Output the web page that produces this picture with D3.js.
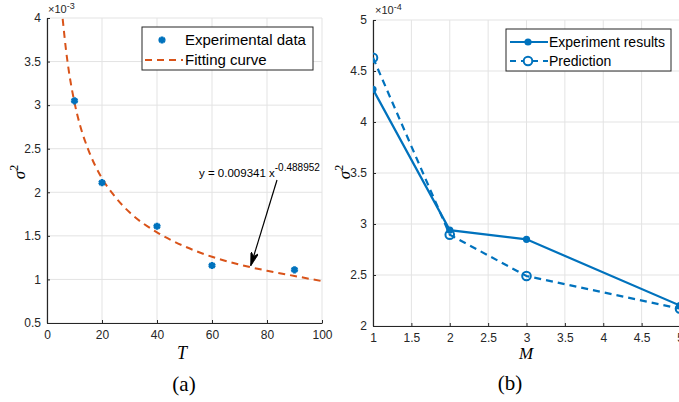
<!DOCTYPE html>
<html>
<head>
<meta charset="utf-8">
<script src="https://cdn.jsdelivr.net/npm/d3@7"></script>
<style>
  body { margin: 0; background: #fff; }
  svg { display: block; }
  .tick text { font-family: "Liberation Sans", Arial, sans-serif; font-size: 12px; fill: #262626; }
</style>
</head>
<body>
<div id="wrapper"></div>
<script>
// ---- data, panel (a) ----
var expT = [10, 20, 40, 60, 90];
var expSigma = [3.05, 2.11, 1.61, 1.16, 1.11];          // x 1e-3
var fitT = [5.7, 7, 8, 10, 12, 15, 20, 25, 30, 40, 50, 60, 70, 80, 90, 100];
var fitSigma = [3.99, 3.61, 3.38, 3.03, 2.77, 2.49, 2.16, 1.94, 1.77, 1.54, 1.38, 1.26, 1.17, 1.10, 1.04, 0.98];
var aXTicks = [0, 20, 40, 60, 80, 100];
var aYTicks = [0.5, 1, 1.5, 2, 2.5, 3, 3.5, 4];

// ---- data, panel (b) ----
var mVals = [1, 2, 3, 5];
var experimentRes = [4.32, 2.94, 2.85, 2.20];          // x 1e-4
var predictionRes = [4.63, 2.895, 2.49, 2.17];
var bXTicks = [1, 1.5, 2, 2.5, 3, 3.5, 4, 4.5, 5];
var bYTicks = [2, 2.5, 3, 3.5, 4, 4.5, 5];

var blue = "#0072BD", orange = "#D95319", axisCol = "#262626", gridCol = "#e3e3e3";

var svg = d3.select("#wrapper").append("svg")
    .attr("width", 679).attr("height", 402);

var defs = svg.append("defs");
defs.append("marker")
    .attr("id", "arrow")
    .attr("viewBox", "0 0 14 8")
    .attr("refX", 13).attr("refY", 4)
    .attr("markerWidth", 14).attr("markerHeight", 8)
    .attr("markerUnits", "userSpaceOnUse")
    .attr("orient", "auto")
    .append("path")
    .attr("d", "M0,0 L14,4 L0,8 L4,4 Z")
    .attr("fill", "#000").attr("stroke", "#000").attr("stroke-width", 0.8);

defs.append("clipPath").attr("id", "clipB")
    .append("rect").attr("x", 373).attr("y", 0).attr("width", 306).attr("height", 330);

// Function: draw grid + axes for one panel
var drawFrame = function(x, y, xTicks, yTicks, xFmt) {
    var g = svg.append("g");
    var x0 = x.range()[0], x1 = x.range()[1], y0 = y.range()[0], y1 = y.range()[1];

    g.selectAll(".vgrid").data(xTicks).enter().append("line")
        .attr("x1", function(d) { return x(d); }).attr("x2", function(d) { return x(d); })
        .attr("y1", y0).attr("y2", y1)
        .attr("stroke", gridCol).attr("stroke-width", 1);
    g.selectAll(".hgrid").data(yTicks).enter().append("line")
        .attr("x1", x0).attr("x2", x1)
        .attr("y1", function(d) { return y(d); }).attr("y2", function(d) { return y(d); })
        .attr("stroke", gridCol).attr("stroke-width", 1);

    var xa = g.append("g").attr("transform", "translate(0," + y0 + ")")
        .call(d3.axisBottom(x).tickValues(xTicks).tickSizeInner(-3).tickSizeOuter(0).tickPadding(7).tickFormat(xFmt));
    var ya = g.append("g").attr("transform", "translate(" + x0 + ",0)")
        .call(d3.axisLeft(y).tickValues(yTicks).tickSizeInner(-3).tickSizeOuter(0).tickPadding(6).tickFormat(d3.format("")));
    [xa, ya].forEach(function(a) {
        a.select(".domain").attr("stroke", axisCol).attr("stroke-width", 1.2);
        a.selectAll(".tick line").attr("stroke", axisCol);
    });
    return g;
};

// ================= panel (a) =================
var xA = d3.scaleLinear().domain([0, 100]).range([47, 322]);
var yA = d3.scaleLinear().domain([0.5, 4]).range([323, 18]);
drawFrame(xA, yA, aXTicks, aYTicks, d3.format(""));

svg.append("path")
    .datum(d3.zip(fitT, fitSigma))
    .attr("d", d3.line().x(function(d) { return xA(d[0]); }).y(function(d) { return yA(d[1]); }).curve(d3.curveMonotoneX))
    .attr("fill", "none").attr("stroke", orange).attr("stroke-width", 2)
    .attr("stroke-dasharray", "7,5");

var star = d3.symbol().type(d3.symbolAsterisk).size(36);
svg.selectAll(".expPt").data(d3.zip(expT, expSigma)).enter().append("path")
    .attr("d", star)
    .attr("transform", function(d) { return "translate(" + xA(d[0]) + "," + yA(d[1]) + ")"; })
    .attr("fill", "none").attr("stroke", blue).attr("stroke-width", 2.8);

// annotation
svg.append("text").attr("x", 199).attr("y", 177)
    .style("font-family", "Liberation Sans, Arial, sans-serif").style("font-size", "11.5px").attr("fill", "#000")
    .text("y = 0.009341 x")
    .append("tspan").attr("dy", -6).style("font-size", "10px").text("-0.488952");
svg.append("line")
    .attr("x1", 277).attr("y1", 180).attr("x2", 251).attr("y2", 265)
    .attr("stroke", "#000").attr("stroke-width", 1.2)
    .attr("marker-end", "url(#arrow)");

// exponent label
var expA = svg.append("text").attr("x", 48).attr("y", 13)
    .style("font-family", "Liberation Sans, Arial, sans-serif").style("font-size", "11px").attr("fill", axisCol);
expA.append("tspan").text("\u00d710");
expA.append("tspan").attr("dy", -4).style("font-size", "9px").text("-3");

// legend (a)
var legA = svg.append("g");
legA.append("rect").attr("x", 142).attr("y", 27).attr("width", 171).attr("height", 43)
    .attr("fill", "#fff").attr("stroke", axisCol).attr("stroke-width", 1);
legA.append("path").attr("d", star).attr("transform", "translate(162,40)")
    .attr("fill", "none").attr("stroke", blue).attr("stroke-width", 2.8);
legA.append("line").attr("x1", 145).attr("x2", 183).attr("y1", 60).attr("y2", 60)
    .attr("stroke", orange).attr("stroke-width", 2).attr("stroke-dasharray", "7,5");
legA.selectAll(".lt").data(["Experimental data", "Fitting curve"]).enter().append("text")
    .attr("x", 185).attr("y", function(d, i) { return 45 + i * 20; })
    .style("font-family", "Liberation Sans, Arial, sans-serif").style("font-size", "15px").attr("fill", "#000")
    .text(function(d) { return d; });

// axis labels (a)
svg.append("text").attr("transform", "translate(25,172) rotate(-90)")
    .attr("text-anchor", "middle")
    .style("font-family", "Liberation Serif, Times New Roman, serif").style("font-size", "17px").style("font-style", "italic")
    .text("\u03c3").append("tspan").attr("dy", -7).style("font-size", "12px").style("font-style", "normal").text("2");
svg.append("text").attr("x", 182).attr("y", 359).attr("text-anchor", "middle")
    .style("font-family", "Liberation Serif, Times New Roman, serif").style("font-size", "18px").style("font-style", "italic")
    .text("T");
svg.append("text").attr("x", 184).attr("y", 391).attr("text-anchor", "middle")
    .style("font-family", "Liberation Serif, Times New Roman, serif").style("font-size", "21px")
    .text("(a)");

// ================= panel (b) =================
var xB = d3.scaleLinear().domain([1, 5]).range([373, 680]);
var yB = d3.scaleLinear().domain([2, 5]).range([326, 20]);
drawFrame(xB, yB, bXTicks, bYTicks, d3.format(""));

var plotB = svg.append("g").attr("clip-path", "url(#clipB)");
var lineB = d3.line().x(function(d) { return xB(d[0]); }).y(function(d) { return yB(d[1]); });

plotB.append("path").datum(d3.zip(mVals, predictionRes))
    .attr("d", lineB).attr("fill", "none").attr("stroke", blue).attr("stroke-width", 2.2)
    .attr("stroke-dasharray", "7,5");
plotB.append("path").datum(d3.zip(mVals, experimentRes))
    .attr("d", lineB).attr("fill", "none").attr("stroke", blue).attr("stroke-width", 2.2);

plotB.selectAll(".pr").data(d3.zip(mVals, predictionRes)).enter().append("circle")
    .attr("cx", function(d) { return xB(d[0]); }).attr("cy", function(d) { return yB(d[1]); })
    .attr("r", 4.3).attr("fill", "none").attr("stroke", blue).attr("stroke-width", 2);
plotB.selectAll(".ex").data(d3.zip(mVals, experimentRes)).enter().append("circle")
    .attr("cx", function(d) { return xB(d[0]); }).attr("cy", function(d) { return yB(d[1]); })
    .attr("r", 3.6).attr("fill", blue);

var expB = svg.append("text").attr("x", 375).attr("y", 14)
    .style("font-family", "Liberation Sans, Arial, sans-serif").style("font-size", "11px").attr("fill", axisCol);
expB.append("tspan").text("\u00d710");
expB.append("tspan").attr("dy", -4).style("font-size", "9px").text("-4");

// legend (b)
var legB = svg.append("g");
legB.append("rect").attr("x", 506).attr("y", 29).attr("width", 165).attr("height", 42)
    .attr("fill", "#fff").attr("stroke", axisCol).attr("stroke-width", 1);
legB.append("line").attr("x1", 510).attr("x2", 548).attr("y1", 42).attr("y2", 42)
    .attr("stroke", blue).attr("stroke-width", 2.2);
legB.append("circle").attr("cx", 528).attr("cy", 42).attr("r", 3.6).attr("fill", blue);
legB.append("line").attr("x1", 510).attr("x2", 548).attr("y1", 61).attr("y2", 61)
    .attr("stroke", blue).attr("stroke-width", 2.2).attr("stroke-dasharray", "6,5");
legB.append("circle").attr("cx", 528).attr("cy", 61).attr("r", 4.3)
    .attr("fill", "#fff").attr("stroke", blue).attr("stroke-width", 2);
legB.selectAll(".lt").data(["Experiment results", "Prediction"]).enter().append("text")
    .attr("x", 549).attr("y", function(d, i) { return 47 + i * 19; })
    .style("font-family", "Liberation Sans, Arial, sans-serif").style("font-size", "14px").attr("fill", "#000")
    .text(function(d) { return d; });

svg.append("text").attr("transform", "translate(350,172) rotate(-90)")
    .attr("text-anchor", "middle")
    .style("font-family", "Liberation Serif, Times New Roman, serif").style("font-size", "17px").style("font-style", "italic")
    .text("\u03c3").append("tspan").attr("dy", -7).style("font-size", "12px").style("font-style", "normal").text("2");
svg.append("text").attr("x", 526).attr("y", 359).attr("text-anchor", "middle")
    .style("font-family", "Liberation Serif, Times New Roman, serif").style("font-size", "17px").style("font-style", "italic")
    .text("M");
svg.append("text").attr("x", 510).attr("y", 390).attr("text-anchor", "middle")
    .style("font-family", "Liberation Serif, Times New Roman, serif").style("font-size", "21px")
    .text("(b)");
</script>
</body>
</html>
